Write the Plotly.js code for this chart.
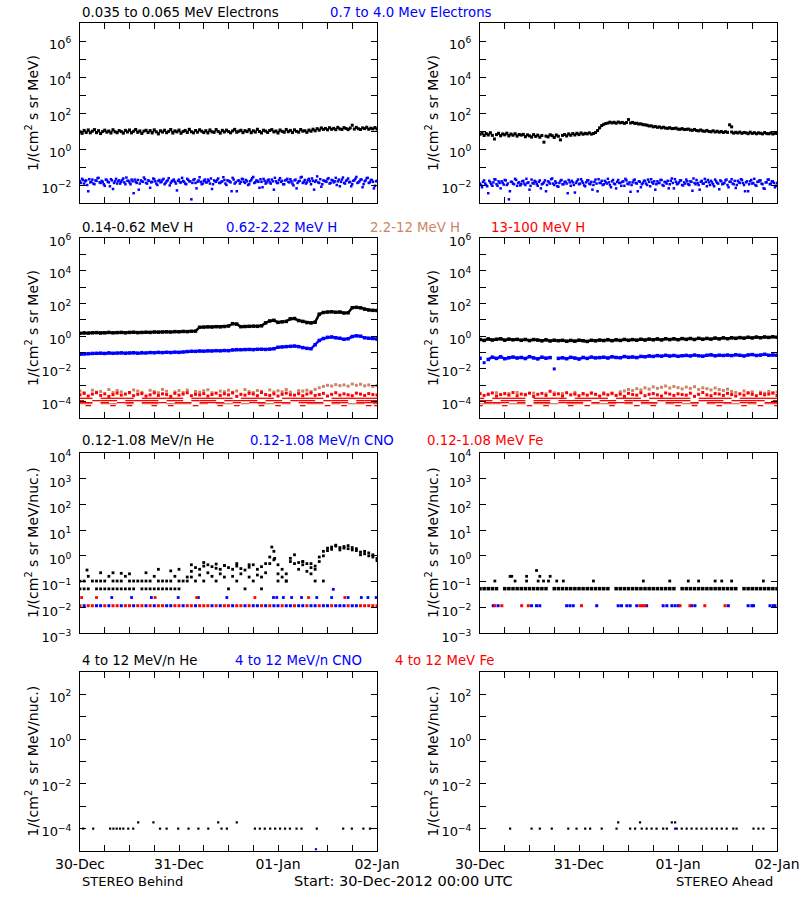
<!DOCTYPE html>
<html><head><meta charset="utf-8">
<script src="https://cdn.plot.ly/plotly-3.0.1.min.js"></script>
<style>html,body{margin:0;padding:0;background:#fff}</style>
</head><body><div id="chart" style="width:800px;height:900px"></div>
<script>
// ---------- time axis (hours since 30-Dec-2012 00:00 UTC) ----------
const xTickVals = [0,6,12,18,24,30,36,42,48,54,60,66,72];
const xTickText = ['30-Dec','','','','31-Dec','','','','01-Jan','','','','02-Jan'];

// ---------- y tick labels ----------
const yTicksElec = [1e-3,1e-2,1e-1,1e0,1e1,1e2,1e3,1e4,1e5,1e6,1e7];
const yLabelsElec = ['','10<sup>−2</sup>','','10<sup>0</sup>','','10<sup>2</sup>','','10<sup>4</sup>','','10<sup>6</sup>',''];
const yTicksH = [1e-5,1e-4,1e-3,1e-2,1e-1,1e0,1e1,1e2,1e3,1e4,1e5,1e6];
const yLabelsH = ['','10<sup>−4</sup>','','10<sup>−2</sup>','','10<sup>0</sup>','','10<sup>2</sup>','','10<sup>4</sup>','','10<sup>6</sup>'];
const yTicksIon = [1e-3,1e-2,1e-1,1e0,1e1,1e2,1e3,1e4];
const yLabelsIon = ['10<sup>−3</sup>','10<sup>−2</sup>','10<sup>−1</sup>','10<sup>0</sup>','10<sup>1</sup>','10<sup>2</sup>','10<sup>3</sup>','10<sup>4</sup>'];
const yTicksHiIon = [1e-5,1e-4,1e-3,1e-2,1e-1,1e0,1e1,1e2,1e3];
const yLabelsHiIon = ['','10<sup>−4</sup>','','10<sup>−2</sup>','','10<sup>0</sup>','','10<sup>2</sup>',''];

// ---------- titles ----------
const row1Titles = ['0.035 to 0.065 MeV Electrons','0.7 to 4.0 Mev Electrons'];
const row2Titles = ['0.14-0.62 MeV H','0.62-2.22 MeV H','2.2-12 MeV H','13-100 MeV H'];
const row3Titles = ['0.12-1.08 MeV/n He','0.12-1.08 MeV/n CNO','0.12-1.08 MeV Fe'];
const row4Titles = ['4 to 12 MeV/n He','4 to 12 MeV/n CNO','4 to 12 MeV Fe'];
const yTitleElec = '1/(cm<sup>2</sup> s sr MeV)';
const yTitleIon = '1/(cm<sup>2</sup> s sr MeV/nuc.)';
const footer = ['STEREO Behind','Start: 30-Dec-2012 00:00 UTC','STEREO Ahead'];

// ---------- Row 1: electrons (half-hour samples; second blue set offset by 15 min) ----------
const elecLoB = [9.0,7.4,10.8,8.3,11.5,7.9,9.8,12.0,8.1,10.4,7.2,9.5,11.2,8.6,10.0,7.7,11.8,9.1,8.0,10.6,9.3,
 7.6,10.9,8.8,11.4,7.9,9.7,12.2,8.4,10.1,7.3,9.9,11.0,8.2,10.5,7.8,11.6,9.0,6.9,10.3,8.7,
 11.1,8.0,9.6,12.1,7.7,10.2,8.9,11.3,7.5,9.4,10.8,8.3,12.4,9.1,7.9,10.6,8.6,11.7,9.8,8.2,
 10.4,7.8,11.5,9.0,8.4,12.0,9.5,7.6,10.9,8.8,11.2,9.3,7.9,10.1,12.3,8.5,9.7,11.0,8.1,10.5,
 9.2,11.9,8.0,10.3,8.7,12.5,9.4,7.8,11.1,9.9,8.3,10.7,12.0,8.9,10.0,7.7,11.4,9.6,8.5,12.2,
 9.1,10.8,8.2,11.6,9.5,8.6,12.1,9.8,10.4,8.4,11.3,9.7,12.6,10.2,13.5,11.1,14.8,12.2,13.9,11.6,
 15.2,12.4,14.1,11.8,16.0,13.0,12.2,15.4,13.7,11.9,14.6,null,12.8,15.9,13.3,12.1,14.9,13.6,16.2,12.5,14.3,13.1,15.5,12.9];
const elecLoBOutT = [66.0];
const elecLoBOutV = [21.0];
const elecHiB = [0.016,0.022,0.012,0.018,0.0045,0.014,0.020,0.011,0.017,0.025,0.013,0.015,0.009,0.019,0.014,0.021,0.006,0.016,0.012,0.018,0.015,
 0.023,0.011,0.017,0.014,0.020,0.0035,0.015,0.019,0.012,0.016,0.026,0.013,0.018,0.007,0.015,0.021,0.012,0.017,0.014,0.019,
 0.011,0.016,0.024,0.013,0.018,0.015,0.005,0.020,0.014,0.017,0.012,0.022,0.016,0.0016,0.019,0.013,0.015,0.027,0.011,0.017,
 0.014,0.020,0.012,0.006,0.018,0.015,0.023,0.013,0.016,0.019,0.010,0.017,0.014,0.025,0.012,0.0045,0.018,0.015,0.021,0.013,
 0.016,0.011,0.019,0.028,0.014,0.017,0.007,0.015,0.022,0.012,0.018,0.014,0.020,0.0055,0.016,0.013,0.024,0.017,0.011,0.019,
 0.015,0.021,0.012,0.018,0.0065,0.016,0.026,0.013,0.019,0.014,0.022,0.011,0.017,0.015,0.030,0.013,0.008,0.018,0.016,0.021,
 0.012,0.019,0.014,0.025,0.016,0.0085,0.020,0.013,0.017,0.023,0.015,0.011,0.018,0.028,0.014,0.020,0.0075,0.016,0.024,0.013,0.019,0.015,0.009,0.017];
const elecHiB2 = [0.013,0.019,0.016,0.010,0.021,0.015,0.012,0.018,0.024,0.014,0.017,0.011,
 0.020,0.015,0.0085,0.018,0.013,0.022,0.016,0.012,0.019,0.014,0.026,0.017,
 0.011,0.016,0.020,0.013,0.0055,0.018,0.015,0.021,0.012,0.017,0.014,0.023,
 0.016,0.010,0.019,0.015,0.022,0.013,0.018,0.0095,0.016,0.020,0.012,0.017,
 0.014,0.025,0.015,0.011,0.019,0.016,0.013,0.021,0.0065,0.018,0.015,0.012,
 0.020,0.014,0.017,0.023,0.011,0.016,0.019,0.013,0.015,0.027,0.012,0.018,
 0.016,0.0045,0.020,0.014,0.017,0.012,0.022,0.015,0.019,0.010,0.016,0.024,
 0.013,0.018,0.015,0.021,0.0075,0.017,0.014,0.020,0.012,0.016,0.025,0.013,
 0.019,0.015,0.011,0.018,0.022,0.014,0.016,0.0095,0.020,0.013,0.017,0.028,
 0.015,0.012,0.019,0.016,0.023,0.0055,0.018,0.014,0.021,0.011,0.017,0.015,
 0.024,0.013,0.018,0.016,0.010,0.020,0.015,0.026,0.012,0.019,0.014,0.0085,
 0.017,0.022,0.013,0.016,0.020,0.011,0.018,0.025,0.014,0.019,0.0065,0.016];
const elecLoA = [6.6,7.8,5.6,7.2,6.0,8.0,5.7,null,6.3,7.5,5.4,6.9,6.1,7.6,5.3,6.8,5.8,7.1,5.2,6.4,5.9,
 6.5,4.8,6.1,5.4,4.6,6.3,5.0,5.9,4.5,5.6,null,5.2,4.7,6.2,5.5,4.4,6.0,5.1,null,5.7,
 6.4,5.3,6.9,5.8,7.2,6.0,7.5,6.3,7.8,6.6,7.4,6.9,7.9,6.7,7.3,8.2,10.5,15.0,20.0,23.5,
 26.0,27.5,31.0,28.0,30.5,27.0,31.5,28.5,30.0,26.5,29.5,null,28.0,30.0,26.5,27.0,24.5,25.0,22.5,22.0,
 21.0,19.0,19.5,17.0,18.0,16.0,16.8,15.0,16.2,14.5,14.0,15.3,13.5,13.8,14.6,12.7,12.4,13.6,12.0,12.3,
 12.8,11.3,11.0,12.2,10.6,10.2,11.4,10.0,9.6,10.8,9.4,9.0,10.3,8.8,9.7,8.6,9.4,8.3,9.2,8.4,
 null,8.8,7.6,8.5,7.8,8.7,7.4,8.3,7.9,7.1,8.6,7.3,8.1,7.0,7.9,7.5,6.9,8.2,7.2,7.0,7.8,6.8,7.5,7.3];
const elecLoAOutT = [3.5,15.5,19.5,36.0,60.5,61.0];
const elecLoAOutV = [3.6,2.4,3.2,43.0,22.0,17.0];
const elecHiA = [0.012,0.0075,0.018,0.010,0.0035,0.014,0.009,0.021,0.011,0.016,0.0065,0.013,0.019,0.010,0.0016,0.015,0.012,0.022,0.009,0.014,0.011,
 0.017,0.010,0.013,0.0055,0.020,0.012,0.015,0.009,0.018,0.011,0.014,0.0045,0.016,0.012,0.023,0.010,0.013,0.008,0.017,0.011,
 0.015,0.012,0.019,0.009,0.014,0.0038,0.016,0.011,0.021,0.013,0.0085,0.018,0.012,0.015,0.010,0.020,0.0045,0.013,0.017,0.011,
 0.014,0.022,0.010,0.016,0.012,0.0065,0.019,0.013,0.015,0.009,0.018,0.011,0.0042,0.014,0.020,0.012,0.016,0.0075,0.013,0.017,
 0.010,0.015,0.021,0.012,0.0055,0.016,0.013,0.019,0.009,0.014,0.017,0.011,0.023,0.0065,0.015,0.012,0.018,0.010,0.014,0.020,
 0.011,0.016,0.0048,0.013,0.019,0.010,0.015,0.012,0.022,0.0085,0.014,0.017,0.011,0.020,0.013,0.0058,0.016,0.012,0.018,0.010,
 0.015,0.021,0.011,0.0068,0.017,0.013,0.019,0.010,0.014,0.0045,0.016,0.012,0.022,0.009,0.015,0.018,0.011,0.0062,0.014,0.020,0.012,0.016,0.0075,0.013];
const elecHiA2 = [0.010,0.015,0.012,0.0085,0.017,0.011,0.014,0.020,0.009,0.013,0.016,0.0105,
 0.018,0.012,0.0045,0.015,0.011,0.019,0.013,0.0095,0.016,0.012,0.022,0.014,
 0.009,0.013,0.017,0.011,0.015,0.0065,0.012,0.018,0.010,0.014,0.021,0.012,
 0.016,0.0085,0.013,0.019,0.011,0.015,0.0035,0.014,0.017,0.010,0.013,0.020,
 0.012,0.016,0.0095,0.014,0.018,0.011,0.0055,0.015,0.012,0.021,0.013,0.010,
 0.017,0.012,0.014,0.0075,0.019,0.011,0.015,0.013,0.009,0.016,0.022,0.012,
 0.014,0.010,0.018,0.013,0.0045,0.015,0.011,0.017,0.012,0.020,0.0085,0.014,
 0.016,0.011,0.013,0.019,0.010,0.015,0.012,0.0065,0.017,0.013,0.021,0.011,
 0.014,0.018,0.0095,0.012,0.016,0.010,0.015,0.023,0.011,0.013,0.0055,0.017,
 0.012,0.015,0.019,0.010,0.014,0.0085,0.016,0.012,0.018,0.011,0.013,0.020,
 0.0075,0.015,0.012,0.017,0.010,0.014,0.021,0.013,0.0045,0.016,0.011,0.019,
 0.013,0.010,0.015,0.018,0.012,0.0065,0.014,0.020,0.011,0.016,0.013,0.009];

// ---------- Row 2: protons (hourly; level channels every 2 h) ----------
const hLoB = [1.5,1.6,1.55,1.6,1.65,1.55,1.6,1.7,1.6,1.65,1.7,1.6,1.7,1.75,1.65,1.7,1.75,1.7,1.8,1.75,
 1.8,1.85,1.8,1.9,1.85,1.95,1.9,2.0,2.05,3.5,3.6,3.7,3.6,3.8,3.7,3.9,4.2,5.8,5.5,3.8,
 3.9,4.0,4.1,4.0,4.3,6.5,8.5,9.3,7.0,7.5,8.0,11.5,12.0,9.0,8.0,6.8,6.5,7.2,
 22,28,30,31,29,30,26,27,55,58,54,45,40,38,37];
const hMidB = [0.078,0.082,0.085,0.088,0.09,0.092,0.088,0.095,0.09,0.093,0.096,0.09,0.094,0.097,0.092,0.098,0.095,0.1,0.097,0.102,
 0.099,0.104,0.1,0.106,0.103,0.108,0.115,0.12,0.118,0.125,0.122,0.128,0.125,0.13,0.127,0.133,0.13,
 0.145,0.15,0.148,0.152,0.155,0.15,0.158,0.16,0.155,0.162,0.17,0.21,0.22,0.23,0.24,0.25,0.23,0.2,0.18,0.17,
 0.3,0.55,0.72,0.85,0.9,0.8,0.75,0.65,0.7,0.95,1.05,1.0,0.8,0.75,0.72,0.68];
const tanHiB = [4.5e-4,3.5e-4,null,5e-4,3.8e-4,4.2e-4,null,5.5e-4,3.6e-4,4.8e-4,
 4e-4,null,3.4e-4,5.2e-4,4.4e-4,3.7e-4,null,4.9e-4,4.1e-4,3.5e-4,
 5.6e-4,4.3e-4,null,3.9e-4,4.7e-4,3.6e-4,5.1e-4,null,4.2e-4,3.8e-4,
 4.6e-4,5.3e-4,3.5e-4,null,4.4e-4,4e-4,5e-4,3.7e-4,4.5e-4,null,
 5.4e-4,4.1e-4,3.6e-4,4.8e-4,4.3e-4,null,5.2e-4,3.9e-4,4.6e-4,4e-4,
 5.5e-4,3.8e-4,null,4.7e-4,4.4e-4,5e-4,4.1e-4,5.6e-4,
 7e-4,8.5e-4,1e-3,9e-4,1.1e-3,9.5e-4,1.05e-3,8.8e-4,1.2e-3,1e-3,1.15e-3,9.2e-4,1.05e-3,8.5e-4,9.8e-4];
const tanLoB = [7.5e-5,7.5e-5,null,7.5e-5,7.5e-5,null,7.5e-5,null,7.5e-5,7.5e-5,null,7.5e-5,7.5e-5,7.5e-5,null,7.5e-5,null,7.5e-5,7.5e-5,null,
 7.5e-5,null,7.5e-5,7.5e-5,null,7.5e-5,null,null,7.5e-5,7.5e-5,null,7.5e-5,null,7.5e-5,7.5e-5,null,7.5e-5];
const redAB = [2.6e-4,3.2e-4,2.2e-4,2.9e-4,3.5e-4,2.4e-4,3.0e-4,2.1e-4,2.7e-4,3.3e-4,2.5e-4,2.9e-4,3.6e-4,2.3e-4,2.8e-4,3.1e-4,2.2e-4,2.6e-4,3.4e-4,2.4e-4,
 3.0e-4,2.7e-4,2.1e-4,3.2e-4,2.5e-4,2.9e-4,3.5e-4,2.3e-4,2.8e-4,2.6e-4,3.1e-4,2.2e-4,2.7e-4,3.3e-4,2.4e-4,3.0e-4,2.6e-4,3.4e-4,2.1e-4,2.8e-4,
 2.5e-4,3.2e-4,2.9e-4,2.3e-4,3.6e-4,2.7e-4,2.4e-4,3.0e-4,2.2e-4,2.8e-4,3.3e-4,2.6e-4,2.5e-4,3.1e-4,2.3e-4,2.9e-4,3.4e-4,2.4e-4,2.7e-4,3.2e-4,
 2.2e-4,2.8e-4,3.5e-4,2.5e-4,3.0e-4,2.6e-4,2.3e-4,3.3e-4,2.9e-4,2.4e-4,3.1e-4,2.7e-4,2.5e-4];
const redCB = [1.6e-4,1.6e-4,null,1.6e-4,1.6e-4,1.6e-4,1.6e-4,null,1.6e-4,1.6e-4,1.6e-4,1.6e-4,1.6e-4,null,1.6e-4,1.6e-4,1.6e-4,1.6e-4,1.6e-4,null,
 1.6e-4,1.6e-4,1.6e-4,1.6e-4,null,1.6e-4,1.6e-4,1.6e-4,1.6e-4,1.6e-4,null,1.6e-4,1.6e-4,1.6e-4,1.6e-4,1.6e-4,1.6e-4];
const redDB = [1.15e-4,null,1.15e-4,1.15e-4,1.15e-4,null,1.15e-4,1.15e-4,1.15e-4,1.15e-4,null,1.15e-4,1.15e-4,null,1.15e-4,1.15e-4,1.15e-4,null,1.15e-4,1.15e-4,
 1.15e-4,1.15e-4,null,1.15e-4,1.15e-4,null,1.15e-4,1.15e-4,1.15e-4,null,1.15e-4,1.15e-4,1.15e-4,null,1.15e-4,1.15e-4,1.15e-4];
const redEB = [8.7e-5,8.7e-5,null,8.7e-5,null,8.7e-5,8.7e-5,null,8.7e-5,8.7e-5,8.7e-5,null,8.7e-5,8.7e-5,null,8.7e-5,8.7e-5,8.7e-5,null,8.7e-5,
 null,8.7e-5,8.7e-5,null,8.7e-5,8.7e-5,null,8.7e-5,8.7e-5,8.7e-5,null,8.7e-5,8.7e-5,null,8.7e-5,8.7e-5,8.7e-5];
const redFB = [null,5.7e-5,null,null,5.7e-5,null,5.7e-5,null,null,5.7e-5,null,5.7e-5,null,null,5.7e-5,null,null,5.7e-5,null,5.7e-5,
 null,null,5.7e-5,null,5.7e-5,null,null,5.7e-5,null,null,5.7e-5,null,5.7e-5,null,null,5.7e-5,5.7e-5];

const hLoA = [0.62,0.55,0.68,0.58,0.65,0.7,0.57,0.66,0.6,0.64,0.56,0.63,0.54,0.62,0.58,0.52,0.6,0.51,0.57,0.53,
 0.56,0.49,0.55,0.5,0.57,0.53,0.48,0.56,0.52,0.58,0.54,0.61,0.53,0.6,0.55,0.63,0.56,0.62,0.57,0.65,
 0.58,0.66,0.6,0.68,0.59,0.7,0.62,0.69,0.61,0.71,0.64,0.72,0.63,0.74,0.65,0.73,0.66,0.77,0.68,0.79,
 0.7,0.8,0.74,0.82,0.76,0.86,0.78,0.88,0.8,0.9,0.84,0.92,0.87];
const hMidA = [0.045,null,0.038,0.052,0.044,0.055,0.042,0.048,0.053,0.046,0.05,0.043,0.056,0.047,0.041,0.052,0.045,0.049,null,0.044,
 0.048,0.042,0.051,0.046,0.04,0.05,0.044,0.053,0.047,0.049,0.052,0.046,0.055,0.05,0.048,0.057,0.051,0.054,0.049,0.058,
 0.055,0.062,0.058,0.065,0.06,0.068,0.061,0.066,0.059,0.064,0.067,0.062,0.07,0.064,0.06,0.068,0.072,0.063,0.069,0.066,
 0.07,0.065,0.073,0.068,0.062,0.071,0.075,0.066,0.07,0.078,0.068,0.072,0.069];
const hMidAOutT = [1.0,18.0];
const hMidAOutV = [0.024,0.010];
const tanHiA = [3.2e-4,null,2.9e-4,null,3.5e-4,null,null,3.1e-4,null,3.6e-4,null,2.8e-4,null,3.3e-4,null,null,3e-4,null,3.4e-4,null,
 3.1e-4,null,null,3.7e-4,null,2.9e-4,null,3.2e-4,null,null,3.5e-4,null,3e-4,null,4e-4,4.5e-4,
 5.5e-4,4.8e-4,6.2e-4,5.2e-4,7e-4,5.8e-4,8e-4,6.5e-4,7.5e-4,9e-4,6.8e-4,8.5e-4,7.2e-4,6e-4,
 7.8e-4,6.4e-4,8.2e-4,5.6e-4,7e-4,6.2e-4,5.2e-4,6.8e-4,5.5e-4,4.8e-4,5.8e-4,
 4.2e-4,3.6e-4,null,4.5e-4,3.4e-4,4e-4,null,3.8e-4,3.3e-4,4.2e-4,3.5e-4,3.9e-4];
const tanLoA = [7.5e-5,7.5e-5,7.5e-5,null,7.5e-5,7.5e-5,null,7.5e-5,7.5e-5,7.5e-5,null,7.5e-5,7.5e-5,null,7.5e-5,7.5e-5,7.5e-5,null,7.5e-5,null,
 7.5e-5,7.5e-5,null,7.5e-5,null,7.5e-5,7.5e-5,null,7.5e-5,null,7.5e-5,7.5e-5,null,7.5e-5,null,7.5e-5,7.5e-5];
const redAA = [3.0e-4,2.4e-4,2.8e-4,3.4e-4,2.2e-4,2.7e-4,3.1e-4,2.5e-4,3.6e-4,2.3e-4,2.9e-4,2.6e-4,3.3e-4,2.1e-4,2.8e-4,3.2e-4,2.4e-4,4.3e-4,2.7e-4,3.0e-4,
 2.2e-4,3.5e-4,2.6e-4,2.9e-4,2.3e-4,3.1e-4,2.5e-4,3.4e-4,2.8e-4,2.2e-4,3.0e-4,2.6e-4,3.3e-4,2.4e-4,2.9e-4,2.1e-4,3.2e-4,2.7e-4,2.5e-4,3.5e-4,
 2.3e-4,2.8e-4,3.1e-4,2.6e-4,2.2e-4,3.4e-4,2.9e-4,2.4e-4,3.0e-4,2.7e-4,2.5e-4,3.3e-4,2.1e-4,2.8e-4,3.6e-4,2.6e-4,2.3e-4,3.1e-4,2.9e-4,2.4e-4,
 3.2e-4,2.7e-4,2.2e-4,3.0e-4,2.5e-4,3.4e-4,2.8e-4,2.3e-4,3.1e-4,2.6e-4,2.9e-4,3.3e-4,2.4e-4];
const redCA = [1.6e-4,null,1.6e-4,1.6e-4,1.6e-4,1.6e-4,null,1.6e-4,1.6e-4,1.6e-4,1.6e-4,null,1.6e-4,1.6e-4,1.6e-4,1.6e-4,null,1.6e-4,1.6e-4,1.6e-4,
 null,1.6e-4,1.6e-4,1.6e-4,1.6e-4,1.6e-4,null,1.6e-4,1.6e-4,1.6e-4,1.6e-4,null,1.6e-4,1.6e-4,1.6e-4,1.6e-4,1.6e-4];
const redDA = [1.15e-4,1.15e-4,null,1.15e-4,1.15e-4,1.15e-4,null,1.15e-4,1.15e-4,null,1.15e-4,1.15e-4,1.15e-4,1.15e-4,null,1.15e-4,1.15e-4,null,1.15e-4,1.15e-4,
 1.15e-4,null,1.15e-4,1.15e-4,1.15e-4,1.15e-4,null,1.15e-4,1.15e-4,1.15e-4,null,1.15e-4,1.15e-4,1.15e-4,1.15e-4,null,1.15e-4];
const redEA = [null,8.7e-5,8.7e-5,8.7e-5,null,8.7e-5,null,8.7e-5,8.7e-5,null,8.7e-5,8.7e-5,8.7e-5,null,8.7e-5,null,8.7e-5,8.7e-5,8.7e-5,null,
 8.7e-5,8.7e-5,null,8.7e-5,8.7e-5,null,8.7e-5,null,8.7e-5,8.7e-5,8.7e-5,null,8.7e-5,8.7e-5,null,8.7e-5,8.7e-5];
const redFA = [5.7e-5,null,null,5.7e-5,null,null,5.7e-5,null,5.7e-5,null,null,5.7e-5,null,5.7e-5,null,null,5.7e-5,null,null,5.7e-5,
 null,5.7e-5,null,null,5.7e-5,null,5.7e-5,null,null,5.7e-5,null,null,5.7e-5,null,5.7e-5,null,5.7e-5];

// ---------- Row 3: 0.12-1.08 MeV/n ions (hourly + sparse points) ----------
const heB = [0.105,0.105,0.16,0.105,0.105,0.105,0.105,0.16,0.105,0.105,0.105,0.16,0.105,0.105,0.105,0.105,0.105,0.105,0.16,0.105,
 0.105,0.105,0.105,0.16,0.105,0.105,
 0.15,0.25,0.35,0.3,0.4,0.45,0.38,0.33,0.3,0.42,0.35,0.3,0.4,0.32,0.28,0.36,0.45,0.3,0.38,0.5,
 0.9,1.5,0.45,0.3,0.2,0.8,1.1,0.55,0.45,0.5,0.35,0.4,0.9,1.5,2.0,2.2,2.4,2.1,2.3,1.9,2.1,1.6,1.4,1.2,1.0,0.9,0.65];
const heB2 = [0.052,0.052,0.052,null,0.052,0.052,0.052,0.052,0.052,0.052,0.052,0.052,0.052,0.052,null,0.052,0.052,0.052,0.052,0.052,
 0.052,0.052,0.052,0.052,0.052,null,
 0.105,0.15,0.105,0.18,0.105,0.22,0.16,0.105,0.2,0.15,0.052,0.16,0.105,0.2,0.052,0.15,0.105,0.18,0.052,0.22,
 0.5,0.7,0.2,0.15,0.105,0.6,0.5,0.3,0.6,0.25,0.5,0.3,0.6,1.0,1.6,1.8,2.6,1.7,2.0,2.5,1.7,1.9,1.1,1.5,1.3,1.1,0.8];
const heB3T = [1.7,5,8,10,12,16,19,22,24,27,30,33,35,38,41,44,46.5,47.2,48,50,54,56,57,59];
const heB3V = [0.28,0.22,0.22,0.21,0.2,0.22,0.3,0.26,0.3,0.45,0.55,0.48,0.42,0.5,0.45,0.15,2.2,0.8,0.105,0.105,0.6,0.2,0.105,0.105];
const cnoB = [null,0.0115,null,null,0.0115,0.0115,null,0.0115,null,null,0.0115,null,null,0.0115,null,null,0.0115,null,0.0115,null,
 null,0.0115,0.0115,null,null,0.0115,null,null,0.0115,null,null,null,0.0115,null,0.0115,null,null,0.0115,null,null,
 0.0115,null,0.0115,0.0115,null,0.0115,null,0.0115,0.0115,null,0.0115,0.0115,null,0.0115,0.0115,null,0.0115,0.0115,null,0.0115,
 0.0115,null,0.0115,0.0115,0.0115,null,0.0115,0.0115,null,null,null,null,null];
const feB = [0.0115,null,0.0115,0.0115,null,null,0.0115,null,0.0115,0.0115,null,0.0115,0.0115,null,0.0115,0.0115,null,0.0115,null,0.0115,
 0.0115,null,null,0.0115,0.0115,null,0.0115,0.0115,null,0.0115,0.0115,0.0115,null,0.0115,null,0.0115,0.0115,null,0.0115,0.0115,
 null,0.0115,null,null,0.0115,null,0.0115,null,null,0.0115,null,null,0.0115,null,null,0.0115,null,null,0.0115,null,
 null,0.0115,null,null,null,0.0115,null,null,0.0115,0.0115,0.0115,0.0115,0.0115];
const cnoB2T = [7.7,12.5,17.3,23.8,28.7,35.6,46.9,47.7,49.3,51.3,53.7,57.4,61.0,61.4,65.0,68.2,69.8,71.8];
const cnoB2V = [0.024,0.024,0.024,0.024,0.024,0.024,0.024,0.024,0.024,0.024,0.024,0.024,0.024,0.05,0.024,0.024,0.024,0.024];
const feB2T = [0.4,4.0,18.2,28.3,42.4,55.4,64.2];
const feB2V = [0.024,0.024,0.024,0.024,0.024,0.024,0.024];

const heA = [0.053,0.053,0.053,0.053,0.053,null,0.053,0.053,0.053,0.053,0.053,0.053,0.053,0.053,0.053,0.053,0.053,null,0.053,0.053,
 0.053,0.053,0.053,0.053,0.053,0.053,0.053,0.053,0.053,0.053,0.053,0.053,null,0.053,0.053,0.053,0.053,0.053,0.053,0.053,
 0.053,0.053,0.053,0.053,0.053,0.053,0.053,0.053,null,0.053,0.053,0.053,0.053,0.053,0.053,0.053,0.053,0.053,0.053,0.053,
 0.053,0.053,0.053,null,0.053,0.053,0.053,0.053,0.053,0.053,0.053,0.053,0.053];
const heA2T = [3.6,8.5,11.3,14.1,15.4,16.6,18.6,20.2,27.5,39.6,46.0,50.5,53.0,57.0,58.6,61.0,68.7,7.3,7.7,11.3,14.5,17.0,13.7];
const heA2V = [0.105,0.105,0.105,0.105,0.105,0.105,0.105,0.105,0.105,0.105,0.105,0.105,0.105,0.105,0.105,0.105,0.105,0.16,0.16,0.16,0.16,0.16,0.27];
const cnoAT = [3.2,4.4,12.5,13.7,14.5,21.0,21.8,22.6,28.3,33.5,34.3,35.6,36.4,38.0,40.4,44.4,45.3,46.5,47.3,48.1,51.3,52.1,60.2,65.0,65.9,66.3,70.3,71.1,71.5];
const cnoAV = [0.0115,0.0115,0.0115,0.0115,0.0115,0.0115,0.0115,0.0115,0.0115,0.0115,0.0115,0.0115,0.0115,0.0115,0.0115,0.0115,0.0115,0.0115,0.0115,0.0115,0.0115,0.0115,0.0115,0.0115,0.0115,0.0115,0.0115,0.0115,0.0115];
const feAT = [3.6,5.3,10.1,11.7,24.6,38.8,39.4,40.0,48.5,50.9,54.5,59.4];
const feAV = [0.0115,0.0115,0.0115,0.0115,0.0115,0.0115,0.0115,0.0115,0.0115,0.0115,0.0115,0.0115];

// ---------- Row 4: 4-12 MeV/n ions (sparse points) ----------
const heHiBT = [0.8,3.2,7.3,8.1,8.9,9.7,10.5,11.7,12.9,14.1,17.8,19.4,21.0,23.8,26.3,28.7,31.1,33.5,34.3,35.6,38.0,42.4,43.6,44.8,46.1,47.3,48.5,49.7,50.9,52.5,53.7,57.4,63.8,65.9,68.7,70.3];
const heHiBV = [1e-4,1e-4,1e-4,1e-4,1e-4,1e-4,1e-4,1e-4,1e-4,1.9e-4,1.9e-4,1e-4,1e-4,1e-4,1e-4,1e-4,1e-4,1.9e-4,1e-4,1e-4,1.9e-4,1e-4,1e-4,1e-4,1e-4,1e-4,1e-4,1e-4,1e-4,1e-4,1e-4,1e-4,1e-4,1e-4,1e-4,1e-4];
const cnoHiBT = [57.2];
const cnoHiBV = [1.2e-5];
const heHiAT = [7.3,12.5,14.5,17.4,21.4,23.4,25.5,26.7,29.5,33.1,36.4,37.6,39.2,40.4,41.6,42.8,44.4,45.3,47.7,48.9,50.1,51.3,52.5,53.7,54.9,56.2,57.4,58.6,59.8,61.4,62.2,66.3,67.5,68.7,33.5,38.8,46.5,47.3];
const heHiAV = [1e-4,1e-4,1e-4,1e-4,1e-4,1e-4,1e-4,1e-4,1e-4,1e-4,1e-4,1e-4,1e-4,1e-4,1e-4,1e-4,1e-4,1e-4,1e-4,1e-4,1e-4,1e-4,1e-4,1e-4,1e-4,1e-4,1e-4,1e-4,1e-4,1e-4,1e-4,1e-4,1e-4,1e-4,1.9e-4,1.9e-4,1.9e-4,1.9e-4];
const cnoHiAT = [47.3];
const cnoHiAV = [1e-4];

// ================= drawing =================
const FONT = 'DejaVu Sans, Verdana, sans-serif';
const BLACK = '#000000', BLUE = '#0000ff', TAN = '#cd8566', RED = '#ff0000';
const traces = [];
function ax(idx){ return idx === 1 ? '' : String(idx); }
function dense(idx, y, x0, dx, color, size, symbol, lineWidth){
  const sym = symbol || 'square';
  const m = {color: color, size: size, symbol: sym, line: {width: 0}};
  if (sym === 'line-ew') m.line = {color: color, width: 1.3};
  const t = {type:'scatter', mode: lineWidth ? 'lines+markers' : 'markers', x0:x0, dx:dx, y:y,
    xaxis:'x'+ax(idx), yaxis:'y'+ax(idx), marker:m, hoverinfo:'skip', cliponaxis:true};
  if (lineWidth) t.line = {color: color, width: lineWidth};
  traces.push(t);
}
function sparse(idx, x, y, color, size){
  traces.push({type:'scatter', mode:'markers', x:x, y:y, xaxis:'x'+ax(idx), yaxis:'y'+ax(idx),
    marker:{color:color, size:size, symbol:'square', line:{width:0}}, hoverinfo:'skip', cliponaxis:true});
}
// Row 1
dense(1, elecLoB, 0, 0.5, BLACK, 3, null, 1.5); sparse(1, elecLoBOutT, elecLoBOutV, BLACK, 3);
dense(1, elecHiB, 0, 0.5, BLUE, 2.5); dense(1, elecHiB2, 0.25, 0.5, BLUE, 2.5);
dense(2, elecLoA, 0, 0.5, BLACK, 3, null, 1.5); sparse(2, elecLoAOutT, elecLoAOutV, BLACK, 3);
dense(2, elecHiA, 0, 0.5, BLUE, 2.5); dense(2, elecHiA2, 0.25, 0.5, BLUE, 2.5);
// Row 2
[[3, hLoB, hMidB, tanHiB, tanLoB, redAB, redCB, redDB, redEB, redFB],
 [4, hLoA, hMidA, tanHiA, tanLoA, redAA, redCA, redDA, redEA, redFA]].forEach(function(p){
  dense(p[0], p[1], 0, 1, BLACK, 3.5, null, 2.5); dense(p[0], p[2], 0, 1, BLUE, 3.5, null, 2.5);
  dense(p[0], p[3], 0, 1, TAN, 3); dense(p[0], p[4], 0, 2, TAN, 6, 'line-ew');
  dense(p[0], p[5], 0, 1, RED, 3);
  dense(p[0], p[6], 0, 2, RED, 6, 'line-ew'); dense(p[0], p[7], 0, 2, RED, 6, 'line-ew');
  dense(p[0], p[8], 0, 2, RED, 6, 'line-ew'); dense(p[0], p[9], 0, 2, RED, 4, 'line-ew');
});
sparse(4, hMidAOutT, hMidAOutV, BLUE, 3);
// Row 3
dense(5, heB2, 0, 1, BLACK, 2.8); dense(5, heB, 0, 1, BLACK, 2.8); sparse(5, heB3T, heB3V, BLACK, 2.8);
dense(5, cnoB, 0, 1, BLUE, 3); dense(5, feB, 0, 1, RED, 3);
sparse(5, cnoB2T, cnoB2V, BLUE, 2.8); sparse(5, feB2T, feB2V, RED, 2.8);
dense(6, heA, 0, 1, BLACK, 3.5); sparse(6, heA2T, heA2V, BLACK, 2.8);
sparse(6, cnoAT, cnoAV, BLUE, 3); sparse(6, feAT, feAV, RED, 3);
// Row 4
sparse(7, heHiBT, heHiBV, BLACK, 2.2); sparse(7, cnoHiBT, cnoHiBV, BLUE, 2.2);
sparse(8, heHiAT, heHiAV, BLACK, 2.2); sparse(8, cnoHiAT, cnoHiAV, BLUE, 2.2);

const W = 800, H = 900;
const rowPx = [[23,203],[238,418],[453,633],[672,851]];
const colPx = [[80,377],[480,777]];
const yRanges = [[-3,7],[-5,6],[-3,4],[-5,3]];
const yLabelShift = [3,3,4,3];
const yTicks = [[yTicksElec,yLabelsElec],[yTicksH,yLabelsH],[yTicksIon,yLabelsIon],[yTicksHiIon,yLabelsHiIon]];
const layout = {width:W, height:H, margin:{l:0,r:0,t:0,b:0}, paper_bgcolor:'#fff', plot_bgcolor:'#fff',
  showlegend:false, font:{family:FONT, color:'#000'}, annotations:[]};
for (let r = 0; r < 4; r++) for (let c = 0; c < 2; c++){
  const idx = r*2 + c + 1;
  const common = {ticks:'inside', ticklen:6, tickwidth:1, tickcolor:'#000', showline:true, linecolor:'#000',
    linewidth:1, mirror:'allticks', showgrid:false, zeroline:false, fixedrange:true};
  layout['xaxis'+ax(idx)] = Object.assign({}, common, {
    domain:[colPx[c][0]/W, colPx[c][1]/W], anchor:'y'+ax(idx), range:[0,72],
    tickmode:'array', tickvals:xTickVals, ticktext:xTickText, showticklabels: r === 3,
    tickfont:{family:FONT, size:14, color:'#000'}, ticklabelstandoff:0});
  layout['yaxis'+ax(idx)] = Object.assign({}, common, {
    domain:[1 - rowPx[r][1]/H, 1 - rowPx[r][0]/H], anchor:'x'+ax(idx), type:'log', range:yRanges[r],
    tickmode:'array', tickvals:yTicks[r][0], ticktext:yTicks[r][1],
    tickfont:{family:FONT, size:13, color:'#000'}, ticklabelstandoff:5, ticklabelshift:yLabelShift[r]});
  layout.annotations.push({xref:'paper', yref:'paper', x:(c ? 432 : 32)/W, y:1 - (rowPx[r][0]+rowPx[r][1])/2/H,
    text: r < 2 ? yTitleElec : yTitleIon, textangle:-90, showarrow:false, xanchor:'center', yanchor:'middle',
    font:{family:FONT, size:14, color:'#000'}});
}
function title(text, xpx, ypx, color){
  layout.annotations.push({xref:'paper', yref:'paper', x:xpx/W, y:1 - ypx/H, text:text, showarrow:false,
    xanchor:'left', yanchor:'middle', font:{family:FONT, size:13.3, color:color}});
}
title(row1Titles[0], 80, 12.5, BLACK); title(row1Titles[1], 328, 12.5, BLUE);
title(row2Titles[0], 80, 227, BLACK); title(row2Titles[1], 224, 227, BLUE);
title(row2Titles[2], 368, 227, TAN); title(row2Titles[3], 489, 227, RED);
title(row3Titles[0], 80, 440, BLACK); title(row3Titles[1], 248, 440, BLUE); title(row3Titles[2], 425, 440, RED);
title(row4Titles[0], 80, 660, BLACK); title(row4Titles[1], 233, 660, BLUE); title(row4Titles[2], 393, 660, RED);
const footFont = {family:FONT, size:13, color:'#000'};
layout.annotations.push({xref:'paper', yref:'paper', x:80/W, y:1-881/H, text:footer[0], showarrow:false, xanchor:'left', yanchor:'middle', font:footFont});
layout.annotations.push({xref:'paper', yref:'paper', x:292/W, y:1-881/H, text:footer[1], showarrow:false, xanchor:'left', yanchor:'middle', font:{family:FONT, size:14.5, color:'#000'}});
layout.annotations.push({xref:'paper', yref:'paper', x:775/W, y:1-881/H, text:footer[2], showarrow:false, xanchor:'right', yanchor:'middle', font:footFont});

Plotly.newPlot('chart', traces, layout, {staticPlot:true, displayModeBar:false});
</script></body></html>
